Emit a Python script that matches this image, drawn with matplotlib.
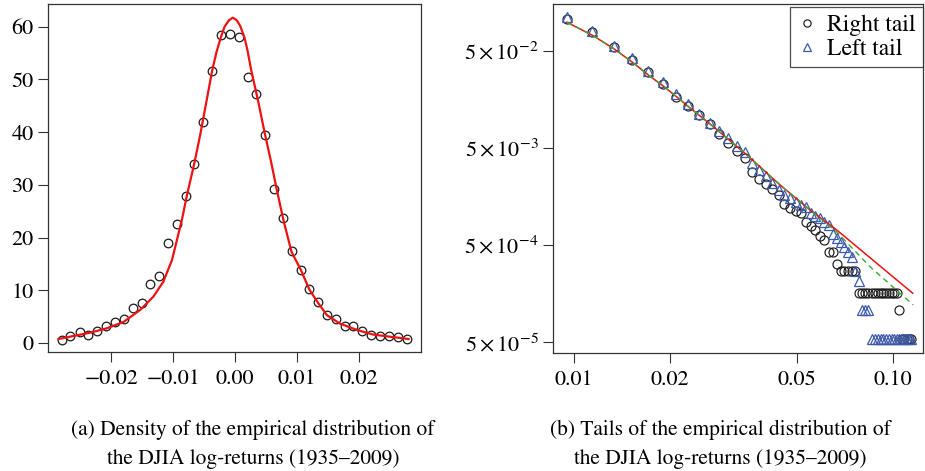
import matplotlib
matplotlib.use("Agg")
import matplotlib.pyplot as plt
from matplotlib.ticker import FixedLocator, FixedFormatter, NullLocator

plt.rcParams['font.family'] = 'STIXGeneral'
plt.rcParams['mathtext.fontset'] = 'stix'

# (a) density of the log-returns: empirical points + fitted density
dens_x = [-0.0280, -0.0266, -0.0251, -0.0237, -0.0223, -0.0208, -0.0194, -0.0180, -0.0165, -0.0151,
          -0.0137, -0.0123, -0.0108, -0.0094, -0.0080, -0.0066, -0.0052, -0.0037, -0.0023, -0.0008,
          0.0007, 0.0020, 0.0034, 0.0049, 0.0063, 0.0077, 0.0092, 0.0106, 0.0120, 0.0134,
          0.0149, 0.0163, 0.0177, 0.0191, 0.0205, 0.0220, 0.0234, 0.0248, 0.0263, 0.0277]
dens_y = [0.6, 1.3, 2.0, 1.6, 2.3, 3.2, 3.9, 4.6, 6.6, 7.5,
          11.2, 12.8, 18.9, 22.5, 27.9, 34.0, 42.0, 51.5, 58.4, 58.6,
          58.1, 50.5, 47.2, 39.5, 29.2, 23.8, 17.4, 13.8, 10.2, 7.8,
          5.3, 4.5, 3.2, 3.2, 2.3, 1.6, 1.4, 1.4, 1.2, 0.8]

fit_x = [-0.0285, -0.0261, -0.0234, -0.0207, -0.0180, -0.0153, -0.0132, -0.0116, -0.0102, -0.0094,
         -0.0086, -0.0078, -0.0066, -0.0056, -0.0046, -0.0037, -0.0030, -0.0023, -0.0017, -0.0010,
         -0.0004, 0.0002, 0.0008, 0.0015, 0.0020, 0.0026, 0.0032, 0.0038, 0.0048, 0.0058,
         0.0067, 0.0078, 0.0091, 0.0106, 0.0120, 0.0134, 0.0148, 0.0169, 0.0196, 0.0223,
         0.0250, 0.0280]
fit_y = [0.76, 1.33, 1.96, 2.8, 4.0, 6.3, 8.8, 11.6, 15.7, 19.5,
         23.3, 27.9, 34.0, 39.7, 46.0, 51.7, 55.2, 58.0, 60.0, 61.2,
         61.7, 61.3, 60.2, 58.0, 55.5, 51.7, 48.6, 45.4, 39.7, 34.4,
         29.2, 23.3, 17.3, 13.9, 10.1, 7.6, 5.3, 3.7, 2.5, 1.6,
         1.2, 0.76]

dens_xticks = [-0.02, -0.01, 0.0, 0.01, 0.02]
dens_xlabels = ['\u22120.02', '\u22120.01', '0.00', '0.01', '0.02']
dens_yticks = [0, 10, 20, 30, 40, 50, 60]

# (b) tails: empirical tail probabilities at each threshold
tail_x = [0.0095, 0.0114, 0.0133, 0.0152, 0.0171, 0.0190, 0.0209, 0.0228, 0.0247, 0.0266,
          0.0285, 0.0304, 0.0323, 0.0342, 0.0361, 0.0380, 0.0399, 0.0418, 0.0437, 0.0456,
          0.0475, 0.0494, 0.0513, 0.0532, 0.0551, 0.0570, 0.0589, 0.0608, 0.0627, 0.0646,
          0.0665, 0.0684, 0.0703, 0.0722, 0.0741, 0.0760, 0.0779, 0.0798, 0.0817, 0.0836,
          0.0855, 0.0874, 0.0893, 0.0912, 0.0931, 0.0950, 0.0969, 0.0988, 0.1007, 0.1026,
          0.1045, 0.1064, 0.1083, 0.1102, 0.1121, 0.1140]
right_tail = [0.1047, 0.0773, 0.0546, 0.0404, 0.0300, 0.0227, 0.01681, 0.01349, 0.01091, 0.00870,
              0.00687, 0.00557, 0.00464, 0.00389, 0.00284, 0.00238, 0.00211, 0.00187, 0.00162, 0.00132,
              0.00120, 0.00113, 0.00108, 0.000870, 0.000786, 0.000715, 0.000620, 0.000564, 0.000429, 0.000429,
              0.000322, 0.000268, 0.000268, 0.000268, 0.000268, 0.000268, 0.000161, 0.000161, 0.000161, 0.000161,
              0.000161, 0.000161, 0.000161, 0.000161, 0.000161, 0.000161, 0.000161, 0.000161, 0.000161, 0.000161,
              0.000107, 0.0000536, 0.0000536, 0.0000536, 0.0000536, 0.0000536]
left_tail = [0.1103, 0.0803, 0.0563, 0.0420, 0.0311, 0.0237, 0.0179, 0.01414, 0.01103, 0.00906,
             0.00752, 0.00628, 0.00518, 0.00453, 0.00351, 0.00295, 0.00255, 0.00217, 0.00186, 0.00165,
             0.00151, 0.00139, 0.00128, 0.00122, 0.00108, 0.000997, 0.000943, 0.000872, 0.000807, 0.000643,
             0.000589, 0.000536, 0.000482, 0.000429, 0.000375, 0.000268, 0.000214, 0.000107, 0.000107, 0.000107,
             0.0000536, 0.0000536, 0.0000536, 0.0000536, 0.0000536, 0.0000536, 0.0000536, 0.0000536, 0.0000536, 0.0000536,
             0.0000536, 0.0000536, 0.0000536, 0.0000536, 0.0000536, 0.0000536]

# fitted tails (solid red) and alternative fit (dashed green)
red_x = [0.00951, 0.01147, 0.01335, 0.01523, 0.01718, 0.01914, 0.02103, 0.02293, 0.02731, 0.03475,
         0.04417, 0.0548, 0.0665, 0.1150]
red_y = [0.0979, 0.0713, 0.0521, 0.0380, 0.0277, 0.0213, 0.0166, 0.0131, 0.00827, 0.00423,
         0.00208, 0.00115, 0.000715, 0.000160]
green_x = [0.00951, 0.01147, 0.01335, 0.01523, 0.01718, 0.01914, 0.02103, 0.02293, 0.02731, 0.03475,
           0.04417, 0.0548, 0.0665, 0.0845, 0.1155]
green_y = [0.0979, 0.0713, 0.0521, 0.0380, 0.0277, 0.0213, 0.0166, 0.0131, 0.00827, 0.00423,
           0.00208, 0.00115, 0.000682, 0.000300, 0.000121]

tail_xticks = [0.01, 0.02, 0.05, 0.10]
tail_xlabels = ['0.01', '0.02', '0.05', '0.10']
tail_yticks = [5e-2, 5e-3, 5e-4, 5e-5]
tail_ylabels = [r'$5\times10^{-2}$', r'$5\times10^{-3}$', r'$5\times10^{-4}$', r'$5\times10^{-5}$']

W, H = 925, 471
fig = plt.figure(figsize=(W / 100, H / 100), dpi=100)

frame_col = '#333333'


def style_axes(ax):
    for s in ax.spines.values():
        s.set_color(frame_col)
        s.set_linewidth(0.9)
    ax.tick_params(axis='both', which='major', direction='out', length=7.5, width=0.8,
                   color=frame_col, labelsize=16, pad=3)
    ax.tick_params(axis='x', pad=5)


# ---- (a) density
ax1 = fig.add_axes([48 / W, 1 - 352 / H, 373 / W, 348 / H])
ax1.plot(dens_x, dens_y, 'o', mfc='none', mec='#1a1a1a', ms=6.2, mew=0.9, zorder=2)
ax1.plot(fit_x, fit_y, color='#ee1111', lw=1.6, zorder=3)
ax1.set_xlim(-0.0302, 0.0300)
ax1.set_ylim(-1.7, 64.3)
ax1.xaxis.set_major_locator(FixedLocator(dens_xticks))
ax1.xaxis.set_major_formatter(FixedFormatter(dens_xlabels))
ax1.set_yticks(dens_yticks)
style_axes(ax1)

# ---- (b) tails
ax2 = fig.add_axes([553 / W, 1 - 353 / H, 370 / W, 349 / H])
ax2.set_xscale('log')
ax2.set_yscale('log')
ax2.plot(tail_x, right_tail, 'o', mfc='none', mec='#1a1a1a', ms=6.5, mew=0.85, label='Right tail', zorder=2)
ax2.plot(tail_x, left_tail, '^', mfc='none', mec='#3d5aa8', ms=6.5, mew=0.9, label='Left tail', zorder=2)
ax2.plot(red_x, red_y, color='#ee1111', lw=1.1, zorder=3)
ax2.plot(green_x, green_y, color='#3aaa35', lw=1.0, dashes=(4, 3), zorder=4)
ax2.set_xlim(0.00859, 0.1239)
ax2.set_ylim(3.88e-5, 0.151)
ax2.xaxis.set_major_locator(FixedLocator(tail_xticks))
ax2.xaxis.set_major_formatter(FixedFormatter(tail_xlabels))
ax2.yaxis.set_major_locator(FixedLocator(tail_yticks))
ax2.yaxis.set_major_formatter(FixedFormatter(tail_ylabels))
ax2.xaxis.set_minor_locator(NullLocator())
ax2.yaxis.set_minor_locator(NullLocator())
style_axes(ax2)

leg = ax2.legend(loc='upper right', bbox_to_anchor=(1.0, 0.99), fontsize=17, frameon=True,
                 fancybox=False, edgecolor='#222222', borderpad=0.3, labelspacing=0.1,
                 handlelength=0.9, handletextpad=0.4, borderaxespad=0.0, markerscale=0.8)
leg.get_frame().set_linewidth(0.9)

# captions
fig.text(253 / W, 1 - 430 / H, '(a) Density of the empirical distribution of',
         ha='center', va='center', fontsize=15.4)
fig.text(253 / W, 1 - 459 / H, 'the DJIA log-returns (1935\u20132009)',
         ha='center', va='center', fontsize=15.4)
fig.text(720 / W, 1 - 430 / H, '(b) Tails of the empirical distribution of',
         ha='center', va='center', fontsize=15.4)
fig.text(720 / W, 1 - 459 / H, 'the DJIA log-returns (1935\u20132009)',
         ha='center', va='center', fontsize=15.4)

fig.savefig('out.png', dpi=100)
